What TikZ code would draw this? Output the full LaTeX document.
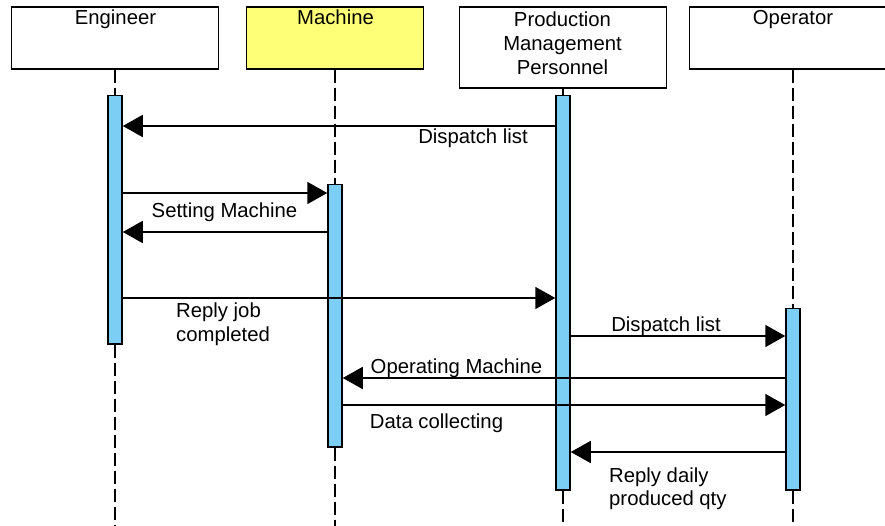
\documentclass[tikz,border=0pt]{standalone}
\usepackage{fontspec}
\setmainfont{Liberation Sans}
\usetikzlibrary{arrows.meta,backgrounds}
\definecolor{barblue}{RGB}{125,206,245}
\definecolor{machyellow}{RGB}{255,255,119}
\begin{document}
\begin{tikzpicture}[x=1bp,y=-1bp,
  every node/.style={font=\fontsize{20.3bp}{24bp}\selectfont, text=black},
  head/.style={draw, line width=1.6bp, fill=white, minimum height=62bp,
    minimum width=207bp, anchor=north, inner sep=0pt},
  bar/.style={draw, line width=1.5bp, fill=barblue, minimum width=14bp,
    anchor=north, inner sep=0pt},
  life/.style={line width=1.6bp, dash pattern=on 13bp off 5bp},
  msg/.style={line width=1.8bp, -{Triangle[length=20bp,width=22bp]}},
  lbl/.style={inner sep=0pt, anchor=base},
  lbl2/.style={inner sep=0pt, anchor=north west, align=left}
]
\useasboundingbox (0,0) rectangle (885,526);
\clip (0,0) rectangle (885,526);

% participant heads
\node[head] (hE) at (115,6) {};
\node[head, fill=machyellow, minimum width=177bp] (hM) at (335,6) {};
\node[head, minimum height=81bp] (hP) at (563,6) {};
\node[head] (hO) at (793,6) {};

\node[lbl] (tE) at (115.5,25) {Engineer};
\node[lbl] (tM) at (335.5,25) {Machine};
\node[inner sep=0pt, align=center, anchor=north] (tP) at (562.5,11.5)
  {Production\\Management\\Personnel};
\node[lbl] (tO) at (793,25) {Operator};

% activation bars
\node[bar, minimum height=248bp] (bE) at (115,95) {};
\node[bar, minimum height=262bp] (bM) at (335,184) {};
\node[bar, minimum height=394bp] (bP) at (563,95) {};
\node[bar, minimum height=181bp] (bO) at (793,308) {};

% lifelines, behind the heads and bars
\coordinate (floor) at (0,530);
\begin{scope}[on background layer]
\draw[life] (hE.south -| bE.north) -- (bE.north);
\draw[life] (bE.south) -- (bE.south |- floor);
\draw[life] (hM.south -| bM.north) -- (bM.north);
\draw[life] (bM.south) -- (bM.south |- floor);
\draw[line width=1.6bp] (hP.south -| bP.north) -- (bP.north);
\draw[life] (bP.south) -- (bP.south |- floor);
\draw[life] (hO.south -| bO.north) -- (bO.north);
\draw[life] (bO.south) -- (bO.south |- floor);
\end{scope}

% message heights
\coordinate (m1) at (0,126);
\coordinate (m2) at (0,193);
\coordinate (m3) at (0,232);
\coordinate (m4) at (0,298);
\coordinate (m5) at (0,336);
\coordinate (m6) at (0,378);
\coordinate (m7) at (0,405);
\coordinate (m8) at (0,452);

% messages
\draw[msg] (bP.west |- m1) -- (bE.east |- m1);
\draw[msg] (bE.east |- m2) -- (bM.west |- m2);
\draw[msg] (bM.west |- m3) -- (bE.east |- m3);
\draw[msg] (bE.east |- m4) -- (bP.west |- m4);
\draw[msg] (bP.east |- m5) -- (bO.west |- m5);
\draw[msg] (bO.west |- m6) -- (bM.east |- m6);
\draw[msg] (bM.east |- m7) -- (bO.west |- m7);
\draw[msg] (bO.west |- m8) -- (bP.east |- m8);

% message labels
\node[lbl] (l1) at (473,144) {Dispatch list};
\node[lbl] (l2) at (224.5,218) {Setting Machine};
\node[lbl2] (l4) at (176,302.5) {Reply job\\completed};
\node[lbl] (l5) at (666,332) {Dispatch list};
\node[lbl] (l6) at (456.5,373) {Operating Machine};
\node[lbl] (l7) at (436.5,428) {Data collecting};
\node[lbl2, font=\fontsize{20.3bp}{23bp}\selectfont] (l8) at (609,467.5) {Reply daily\\produced qty};
\end{tikzpicture}
\end{document}
